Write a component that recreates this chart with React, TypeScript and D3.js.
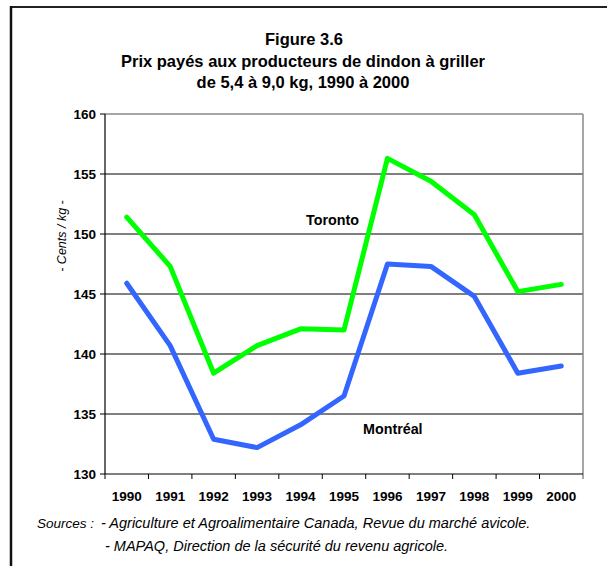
import React from 'react'
import { scaleLinear, scaleBand, line } from 'd3'

const years = ['1990', '1991', '1992', '1993', '1994', '1995', '1996', '1997', '1998', '1999', '2000']
const toronto = [151.4, 147.3, 138.4, 140.7, 142.1, 142.0, 156.3, 154.4, 151.6, 145.2, 145.8]
const montreal = [145.9, 140.7, 132.9, 132.2, 134.1, 136.5, 147.5, 147.3, 144.8, 138.4, 139.0]
const yTicks = [130, 135, 140, 145, 150, 155, 160]

const W = 607
const H = 566
const left = 105
const right = 583
const top = 114
const bottom = 474

const App = () => {
  const x = scaleBand().domain(years).range([left, right])
  const y = scaleLinear().domain([130, 160]).range([bottom, top])
  const cx = (i: number) => (x(years[i]) as number) + x.bandwidth() / 2
  const path = line<number>().x((_, i) => cx(i)).y(d => y(d))

  const font = 'Liberation Sans, Arial, sans-serif'

  return (
    <svg width={W} height={H} style={{ position: 'absolute', left: 0, top: 0 }} fontFamily={font}>
      <rect x={0} y={0} width={W} height={H} fill='#fff' />
      {/* cadre */}
      <line x1={10} x2={W} y1={7} y2={7} stroke='#222' strokeWidth={2} />
      <line x1={11} x2={11} y1={6} y2={H} stroke='#111' strokeWidth={2.5} />

      <text x={304} y={45} textAnchor='middle' fontWeight='bold' fontSize={16.5}>Figure 3.6</text>
      <text x={303} y={67} textAnchor='middle' fontWeight='bold' fontSize={16.5}>Prix payés aux producteurs de dindon à griller</text>
      <text x={303} y={88} textAnchor='middle' fontWeight='bold' fontSize={16.5}>de 5,4 à 9,0 kg, 1990 à 2000</text>

      {yTicks.filter(t => t > 130 && t < 160).map(t => (
        <line key={t} x1={left} x2={right} y1={y(t)} y2={y(t)} stroke='#000' strokeWidth={1} />
      ))}
      <line x1={left} x2={right} y1={top} y2={top} stroke='#888' strokeWidth={1.5} />
      <line x1={right} x2={right} y1={top} y2={bottom + 5} stroke='#888' strokeWidth={1.5} />

      {yTicks.map(t => (
        <g key={t}>
          <line x1={left - 5} x2={left} y1={y(t)} y2={y(t)} stroke='#000' />
          <text x={96} y={y(t) + 4.5} textAnchor='end' fontWeight='bold' fontSize={13.5}>{t}</text>
        </g>
      ))}
      {years.map(yr => (
        <g key={yr}>
          <line x1={x(yr)} x2={x(yr)} y1={bottom} y2={bottom + 5} stroke='#000' />
          <text x={(x(yr) as number) + x.bandwidth() / 2} y={501} textAnchor='middle' fontWeight='bold' fontSize={13.5}>{yr}</text>
        </g>
      ))}
      <line x1={left} x2={left} y1={top} y2={bottom} stroke='#000' strokeWidth={1.2} />
      <line x1={left} x2={right} y1={bottom} y2={bottom} stroke='#000' strokeWidth={1.2} />

      <text transform={`translate(66, 236) rotate(-90)`} textAnchor='middle' fontStyle='italic' fontSize={12.5}>- Cents / kg -</text>

      <path d={path(toronto) ?? ''} fill='none' stroke='#00ff00' strokeWidth={5} strokeLinejoin='round' strokeLinecap='round' />
      <path d={path(montreal) ?? ''} fill='none' stroke='#3366ff' strokeWidth={5} strokeLinejoin='round' strokeLinecap='round' />

      <text x={306} y={225} fontWeight='bold' fontSize={14.3}>Toronto</text>
      <text x={363} y={434} fontWeight='bold' fontSize={14.3}>Montréal</text>

      <text y={528} fontStyle='italic' fontSize={14.5}>
        <tspan x={37} fontSize={13.5}>Sources :</tspan>
        <tspan x={101}>- Agriculture et Agroalimentaire Canada, Revue du marché avicole.</tspan>
      </text>
      <text x={105} y={551} fontStyle='italic' fontSize={14.5}>- MAPAQ, Direction de la sécurité du revenu agricole.</text>
    </svg>
  )
}

export default App
